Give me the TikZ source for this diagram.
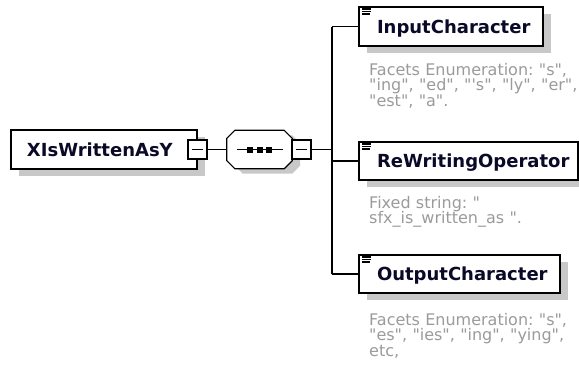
\documentclass[tikz,border=0pt]{standalone}
\usepackage{fontspec}
\newfontfamily\dvs{DejaVu Sans}
\usetikzlibrary{shadows}
\definecolor{shadowgray}{RGB}{200,200,200}
\definecolor{descgray}{RGB}{155,155,155}
\definecolor{boxtext}{RGB}{10,10,40}
\frenchspacing
\tikzset{
  elem/.style={draw=black, line width=2pt, fill=white, inner sep=0pt,
    align=left, text height=15pt, text depth=2pt,
    font=\dvs\bfseries\fontsize{18}{20}\selectfont, text=boxtext,
    general shadow={fill=shadowgray, shadow xshift=8pt, shadow yshift=-7pt}},
  collapse/.style={draw=black, line width=1.2pt, fill=white, minimum size=19pt, inner sep=0pt,
    path picture={\draw[line width=1.2pt] ([xshift=4pt]path picture bounding box.west) -- ([xshift=-4pt]path picture bounding box.east);}},
  seqbox/.style={rectangle, minimum width=65pt, minimum height=38pt, inner sep=0pt},
  conn/.style={draw=black, line width=1.3pt},
  desc/.style={font=\dvs\fontsize{16}{15.5}\selectfont\frenchspacing, text=descgray, text width=215pt, align=left, inner sep=0pt, anchor=base west},
  icon/.style={line width=1.1pt}
}
\newcommand\octpts[2]{([shift={(#1+8,#2)}]seq.north west) -- ([shift={(#1-8,#2)}]seq.north east) -- ([shift={(#1,#2+8)}]seq.north east) -- ([shift={(#1,#2-8)}]seq.south east) -- ([shift={(#1-8,#2)}]seq.south east) -- ([shift={(#1+8,#2)}]seq.south west) -- ([shift={(#1,#2-8)}]seq.south west) -- ([shift={(#1,#2+8)}]seq.north west) -- cycle}
\begin{document}
\begin{tikzpicture}[x=1pt,y=-1pt]
\useasboundingbox[fill=white] (0,0) rectangle (579,367);
% root
\node[elem, text width=186pt, minimum height=39pt] (root) at (104,149.5) {\hspace*{16pt}XIsWrittenAsY};
\node[collapse] (rootsq) at (197.5,149.5) {};
% sequence compositor
\node[seqbox] (seq) at (259.5,149.5) {};
\fill[shadowgray] \octpts{8}{5};
\draw[fill=white, line width=1.2pt] \octpts{0}{0};
\draw[line width=1.2pt] ([xshift=-22.5pt]seq.center) -- ([xshift=23.5pt]seq.center);
\foreach \dx in {-9.5,0.5,9.5}{\fill ([xshift=\dx pt]seq.center) +(-3,-3) rectangle +(3,3);}
\node[collapse] (seqsq) at (301.5,149.5) {};
\coordinate (bar) at (332,149.5);
% children
\node[elem, text width=184pt, minimum height=39pt] (inp) at (451,26.5) {\hspace*{18pt}InputCharacter};
\node[elem, text width=219pt, minimum height=38pt] (rew) at (468.5,161) {\hspace*{18pt}ReWritingOperator};
\node[elem, text width=201pt, minimum height=38pt] (out) at (459.5,274) {\hspace*{18pt}OutputCharacter};
% icons
\foreach \n in {inp,rew,out}{
  \draw[icon] (\n.north west) ++(4,3) -- ++(9,0);
  \draw[icon] (\n.north west) ++(4,5.5) -- ++(9,0);
  \draw[icon] (\n.north west) ++(4,8) -- ++(8,0);
}
% connectors
\draw[conn] (rootsq.east) -- (seq.west);
\draw[conn] (seqsq.east) -- (bar);
\draw[conn] (bar |- inp.west) -- (bar |- out.west);
\draw[conn] (bar |- inp.west) -- (inp.west);
\draw[conn] (bar |- rew.west) -- (rew.west);
\draw[conn] (bar |- out.west) -- (out.west);
% descriptions
\node[desc] (inpdesc) at (369,75) {Facets Enumeration: "s",\\"ing", "ed", "\textquotesingle s", "ly", "er",\\"est", "a".};
\node[desc] (rewdesc) at (369,208) {Fixed string: "\\sfx\_is\_written\_as ".};
\node[desc] (outdesc) at (369,325) {Facets Enumeration: "s",\\"es", "ies", "ing", "ying",\\etc,};
\end{tikzpicture}
\end{document}
